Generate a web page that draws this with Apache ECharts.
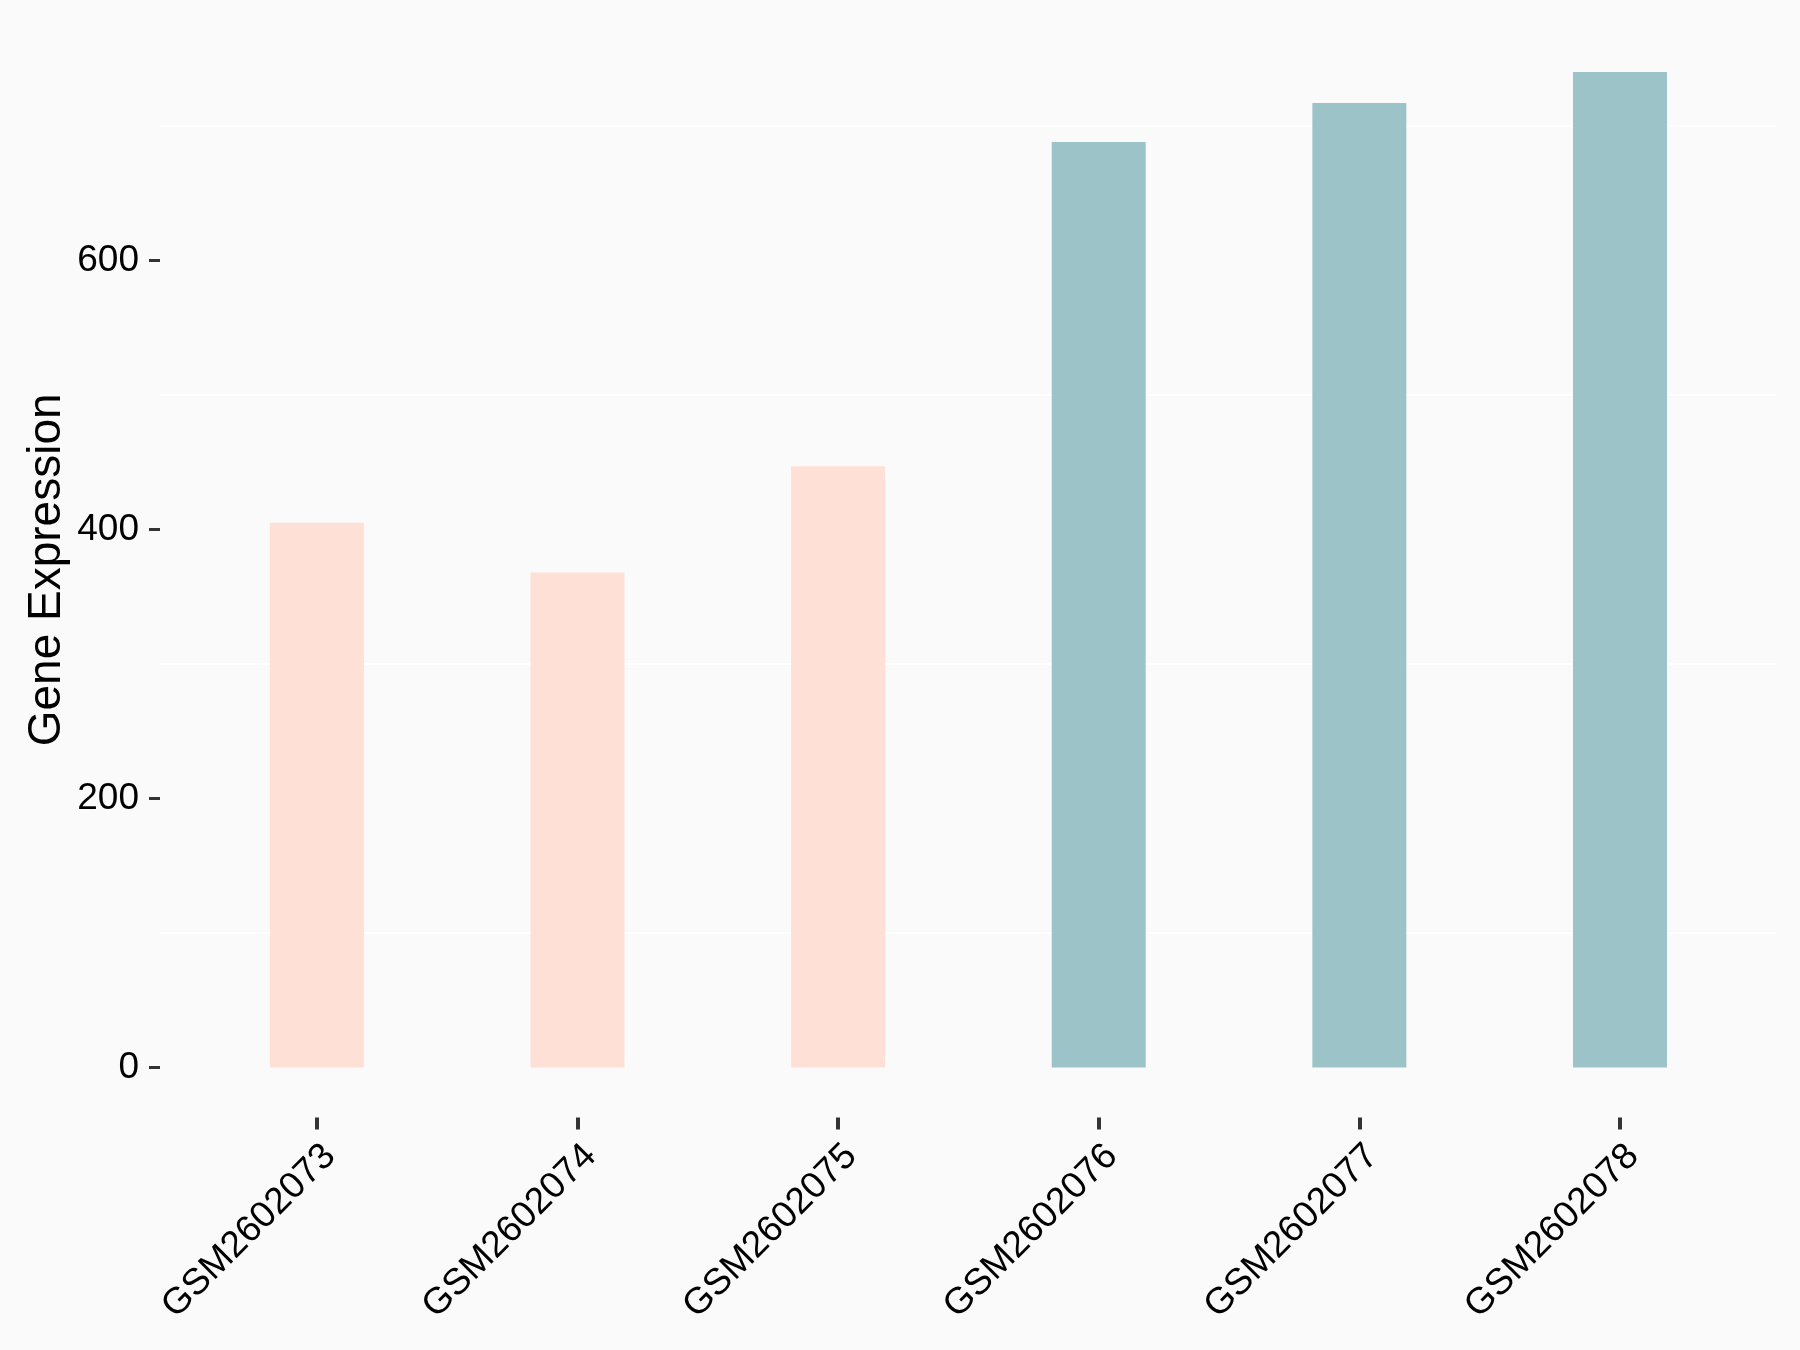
<!DOCTYPE html>
<html>
<head>
<meta charset="utf-8">
<script src="https://cdn.jsdelivr.net/npm/echarts@6/dist/echarts.min.js"></script>
<style>
html,body{margin:0;padding:0;background:#FAFAFA;}
#chart{width:1800px;height:1350px;}
</style>
</head>
<body>
<div id="chart"></div>
<script>
const categories = ['GSM2602073','GSM2602074','GSM2602075','GSM2602076','GSM2602077','GSM2602078'];
const values = [405, 368, 447, 688, 717, 740];
const groups = ['A','A','A','B','B','B'];
const groupColors = {A: '#FEE0D6', B: '#9CC4C8'};
const yTicks = [0, 200, 400, 600];
const yMin = 0, yMax = 777;          // panel top (data max plus padding)
const panelMin = -37;                // panel bottom (padding below zero)

const chart = echarts.init(document.getElementById('chart'), null, {renderer: 'canvas'});
const font = 'Liberation Sans, Arial, Helvetica, sans-serif';

const option = {
  backgroundColor: '#FAFAFA',
  animation: false,
  grid: [
    {left: 160, right: 24, top: 22.3, bottom: 232.6},
    {left: 160, right: 24, top: 22.3, bottom: 282.4},
    {left: 186.5, right: 49.7, top: 22.3, bottom: 232.6}
  ],
  xAxis: [
    {gridIndex: 0, type: 'value', show: false, min: 0, max: 1},
    {gridIndex: 1, type: 'value', show: false, min: 0, max: 1},
    {
      gridIndex: 2, type: 'category', data: categories,
      axisLine: {show: false, onZero: false},
      axisTick: {show: true, alignWithLabel: true, length: 12, lineStyle: {color: '#333333', width: 4}},
      axisLabel: {rotate: 45, margin: 20, fontSize: 37, color: '#000000', fontFamily: font,
                  interval: 0, align: 'right', verticalAlign: 'top'},
      splitLine: {show: false}
    }
  ],
  yAxis: [
    {
      gridIndex: 0, type: 'value', min: panelMin, max: yMax,
      name: 'Gene Expression', nameLocation: 'middle', nameGap: 90,
      nameTextStyle: {fontSize: 46, color: '#000000', fontFamily: font},
      axisLine: {show: false, onZero: false}, axisTick: {show: false}, axisLabel: {show: false},
      splitLine: {show: false}
    },
    {
      gridIndex: 1, type: 'value', min: yMin, max: yMax, interval: 200,
      axisLine: {show: false, onZero: false},
      axisTick: {show: true, length: 11, customValues: yTicks, lineStyle: {color: '#333333', width: 3}},
      axisLabel: {
        margin: 21, fontSize: 37, color: '#000000', fontFamily: font,
        customValues: yTicks
      },
      splitLine: {show: false},
      minorTick: {show: false, splitNumber: 2},
      minorSplitLine: {show: true, lineStyle: {color: '#FFFFFF', width: 2}}
    },
    {gridIndex: 2, type: 'value', min: panelMin, max: yMax, show: false}
  ],
  series: [{
    type: 'bar',
    xAxisIndex: 2, yAxisIndex: 2,
    barWidth: 94,
    data: values.map((v, i) => ({value: v, itemStyle: {color: groupColors[groups[i]]}}))
  }]
};
chart.setOption(option);
</script>
</body>
</html>
